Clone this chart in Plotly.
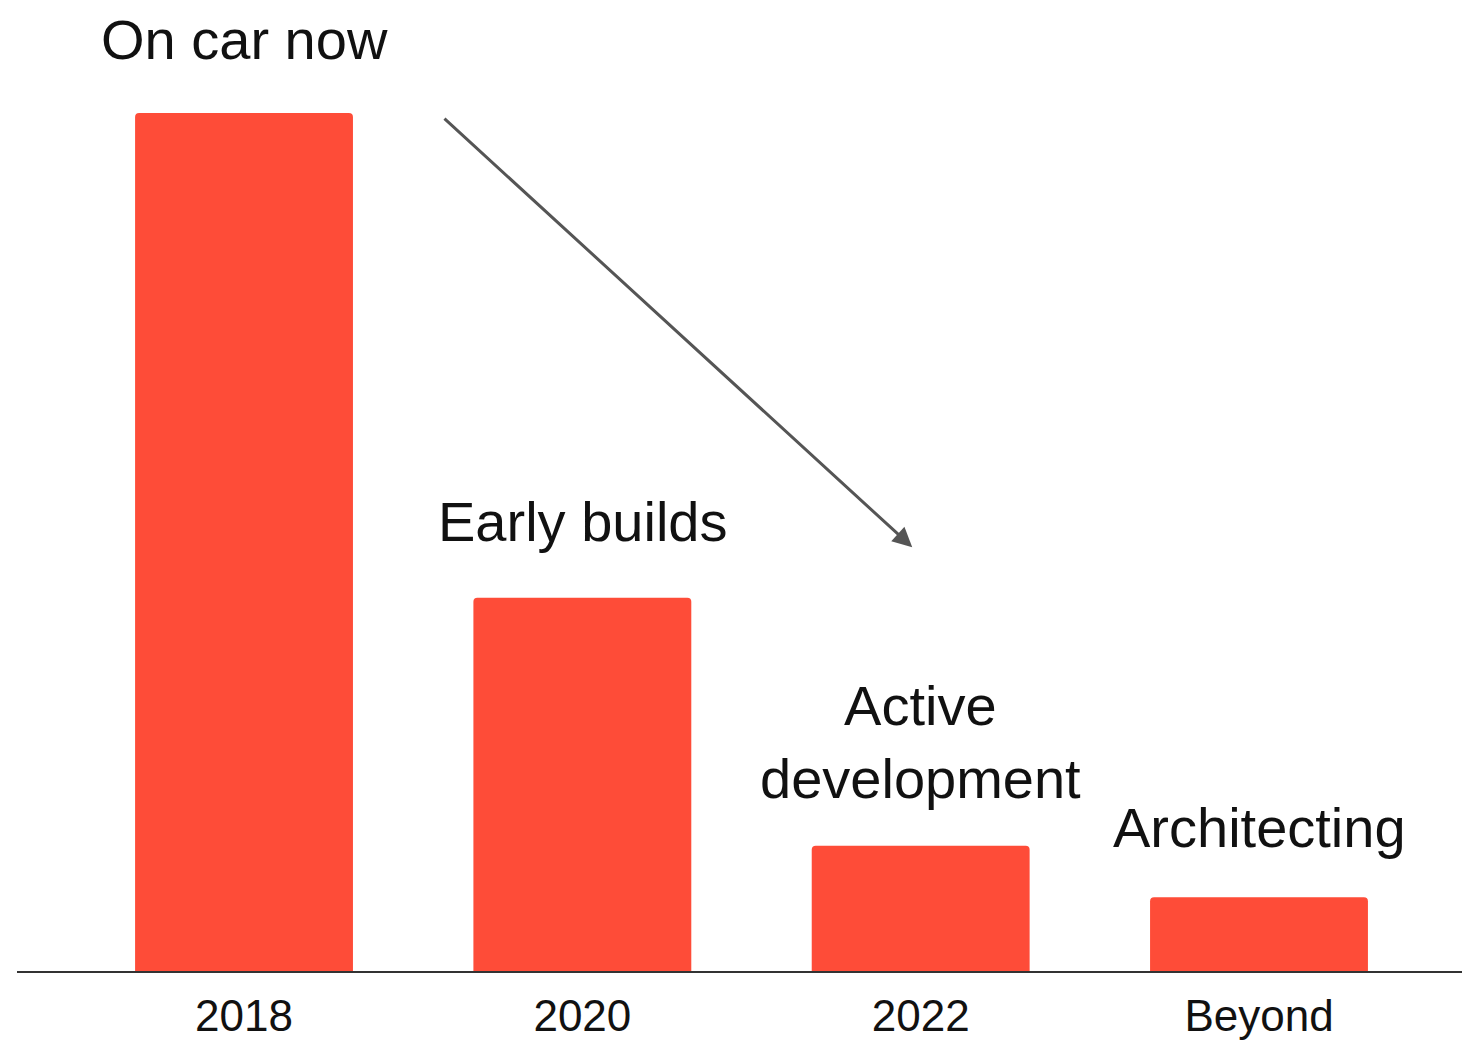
import plotly.graph_objects as go

# data (relative stage size, tallest = 100)
periods = ["2018", "2020", "2022", "Beyond"]
sizes = [100, 43.5, 14.6, 8.6]
stage_labels = ["On car now", "Early builds", "Active<br>development", "Architecting"]

BAR_RED = "#FE4C38"
FONT = "Helvetica Neue, Helvetica, Liberation Sans, Arial, sans-serif"

fig = go.Figure(go.Bar(
    x=list(range(len(periods))),
    y=sizes,
    marker_color=BAR_RED,
    marker_line_width=0,
    marker_cornerradius=4,
    hoverinfo="skip",
))

# stage names above bars
label_shift = [40, 43, 34, 36]
for i, (lab, val) in enumerate(zip(stage_labels, sizes)):
    fig.add_annotation(
        x=i, y=val, text=lab, showarrow=False,
        yanchor="bottom", yshift=label_shift[i],
        font=dict(size=56, color="#111111", family=FONT),
    )

# downward trend arrow
fig.add_annotation(
    x=1.975, y=49.4, ax=0.588, ay=99.5,
    xref="x", yref="y", axref="x", ayref="y",
    text="", showarrow=True,
    arrowhead=2, arrowsize=1.3, arrowwidth=3, arrowcolor="#555555",
)

# page body adds an 8px margin, so the figure is offset by 8px
fig.update_layout(
    width=1454, height=1034,
    paper_bgcolor="white", plot_bgcolor="white",
    margin=dict(l=9, r=0, t=105, b=71),
    bargap=0.356,
    showlegend=False,
    font=dict(family=FONT, color="#111111"),
    xaxis=dict(
        range=[-0.671, 3.600],
        tickmode="array", tickvals=list(range(len(periods))), ticktext=periods,
        tickfont=dict(size=44, color="#111111", family=FONT),
        ticklabelstandoff=5, automargin=False,
        showline=True, linecolor="#333333", linewidth=1.5,
        showgrid=False, zeroline=False, ticks="",
    ),
    yaxis=dict(range=[0, 100], visible=False, showgrid=False, automargin=False),
)

fig.write_html("out.html")
